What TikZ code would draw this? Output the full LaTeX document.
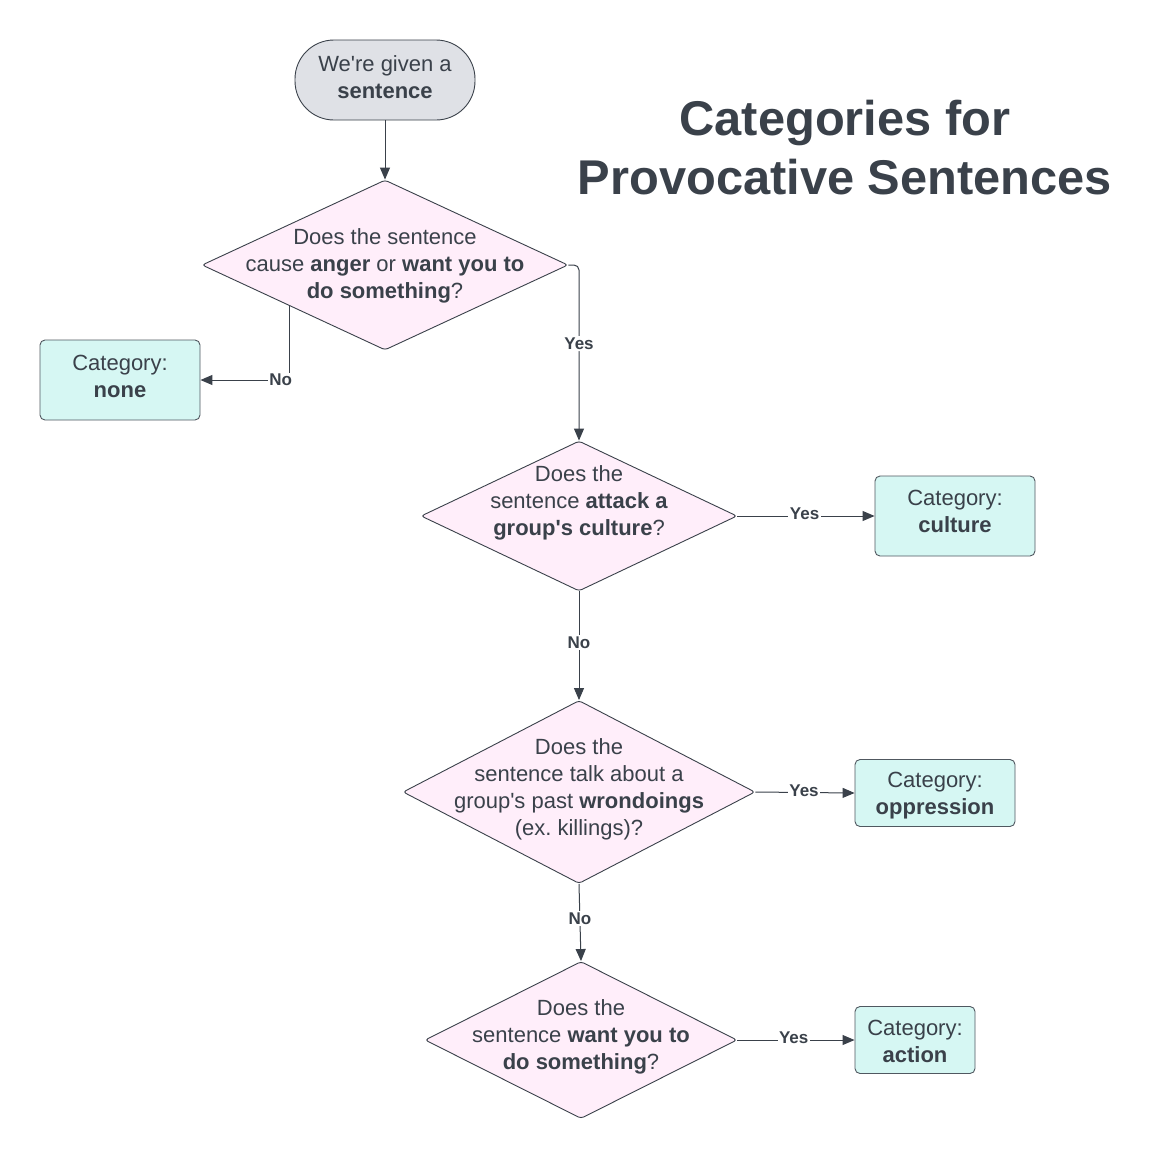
\documentclass[tikz,border=0pt]{standalone}
\usepackage{fontspec}
\setmainfont{Liberation Sans}[Ligatures=TeXOff]
\usetikzlibrary{arrows.meta,shapes.geometric,calc}
\definecolor{ink}{RGB}{58,65,74}
\definecolor{pinkfill}{RGB}{255,238,250}
\definecolor{cyanfill}{RGB}{214,247,243}
\definecolor{grayfill}{RGB}{223,225,230}
\definecolor{boxline}{RGB}{80,88,96}
\frenchspacing
\begin{document}
\begin{tikzpicture}[x=1pt,y=-1pt,
  every node/.style={text=ink},
  txt/.style={align=center,inner sep=0pt,font=\fontsize{22}{27}\selectfont},
  dia/.style={diamond,draw=ink,line width=0.9pt,fill=pinkfill,inner sep=0pt,rounded corners=3pt},
  startbox/.style={rectangle,draw=ink,line width=0.9pt,fill=grayfill,rounded corners=39pt,minimum width=180pt,minimum height=80pt},
  catbox/.style={rectangle,draw=boxline,line width=0.9pt,fill=cyanfill,rounded corners=5pt,minimum width=160pt},
  conn/.style={draw=ink,line width=1pt,-{Triangle[length=12pt,width=10pt]}},
  lbl/.style={fill=white,inner sep=1.5pt,font=\fontsize{17}{17}\selectfont\bfseries},
  titlestyle/.style={align=center,font=\fontsize{48.8}{59}\selectfont\bfseries}
]
\useasboundingbox (0,0) rectangle (1175,1160);
\fill[white] (0,0) rectangle (1175,1160);

% title
\node[titlestyle] (title) at (845,148) {Categories for\\Provocative Sentences};

% start
\node[startbox] (start) at (385,80) {};
\node[txt] (startt) at (385,77) {We're given a\\\textbf{sentence}};

% diamonds
\node[dia,minimum width=366pt,minimum height=170pt] (d1) at (385,265) {};
\node[txt] (d1t) at (385,266) {Does the sentence\\cause \textbf{anger} or \textbf{want you to}\\\textbf{do something}?};

\node[dia,minimum width=316pt,minimum height=150pt] (d2) at (579,516) {};
\node[txt] (d2t) at (579,503) {Does the\\sentence \textbf{attack a}\\\textbf{group's culture}?};

\node[dia,minimum width=352pt,minimum height=183pt] (d3) at (579,792) {};
\node[txt] (d3t) at (579,789.5) {Does the\\sentence talk about a\\group's past \textbf{wrondoings}\\(ex. killings)?};

\node[dia,minimum width=312pt,minimum height=157pt] (d4) at (581,1040) {};
\node[txt] (d4t) at (581,1037) {Does the\\sentence \textbf{want you to}\\\textbf{do something}?};

% categories
\node[catbox,minimum height=80pt] (none) at (120,380) {};
\node[txt] (nonet) at (120,376) {Category:\\\textbf{none}};
\node[catbox,minimum height=80pt] (culture) at (955,516) {};
\node[txt] (culturet) at (955,511) {Category:\\\textbf{culture}};
\node[catbox,minimum height=67pt] (oppr) at (935,793) {};
\node[txt] (opprt) at (935,796) {Category:\\\textbf{oppression}};
\node[catbox,minimum width=120pt,minimum height=67pt] (action) at (915,1040) {};
\node[txt] (actiont) at (915,1041.5) {Category:\\\textbf{action}};

% connectors
\draw[conn] (start.south) -- (d1.north);
\draw[conn,rounded corners=5pt] (d1.east) -| node[lbl,pos=0.724] (yes1) {Yes} (d2.north);
\coordinate (d1no) at ($(d1.west)!0.48!(d1.south)$);
\draw[conn] (d1no) |- node[lbl,pos=0.5,xshift=-9pt] (no1) {No} (none.east);
\draw[conn] (d2.east) -- node[lbl,pos=0.49,yshift=2pt] (yes2) {Yes} (culture.west);
\draw[conn] (d2.south) -- node[lbl,pos=0.47] (no2) {No} (d3.north);
\draw[conn] (d3.east) -- node[lbl,pos=0.49,yshift=2pt] (yes3) {Yes} (oppr.west);
\draw[conn] (d3.south) -- node[lbl,pos=0.45] (no3) {No} (d4.north);
\draw[conn] (d4.east) -- node[lbl,pos=0.48,yshift=2pt] (yes4) {Yes} (action.west);
\end{tikzpicture}
\end{document}
